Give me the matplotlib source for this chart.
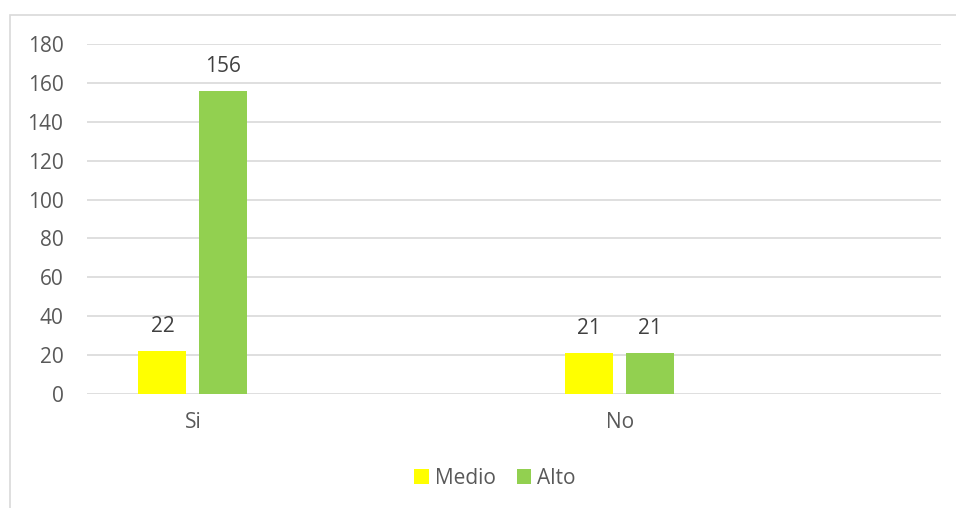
import matplotlib
matplotlib.use("Agg")
import matplotlib.pyplot as plt
from matplotlib.patches import Rectangle

categories = ["Si", "No"]
series_names = ["Medio", "Alto"]
medio = [22, 21]
alto = [156, 21]
yticks = [0, 20, 40, 60, 80, 100, 120, 140, 160, 180]

colors = ["#FFFF00", "#92D050"]
text_color = "#595959"
plt.rcParams['font.family'] = ['Open Sans', 'DejaVu Sans']
fs = 15

fig = plt.figure(figsize=(9.56, 5.08), dpi=100)
W, H = 956, 508
ax = fig.add_axes([87 / W, 1 - 394 / H, (941 - 87) / W, (394 - 44) / H])

# figure frame (top and left visible)
fig.add_artist(Rectangle((10 / W, -0.05), 1.2, 1 - 15 / H + 0.05, transform=fig.transFigure,
                         fill=False, edgecolor="#D9D9D9", linewidth=1.2))

x = range(len(categories))
bw = 0.112
off = 0.0714
b1 = ax.bar([i - off for i in x], medio, width=bw, color=colors[0], label=series_names[0], zorder=3)
b2 = ax.bar([i + off for i in x], alto, width=bw, color=colors[1], label=series_names[1], zorder=3)
for bars in (b1, b2):
    ax.bar_label(bars, padding=10, fontsize=fs, color="#404040")

ax.set_xlim(-0.248, 1.752)
ax.set_ylim(0, 180)
ax.set_yticks(yticks)
ax.set_xticks(list(x))
ax.set_xticklabels(categories)
ax.tick_params(axis='both', length=0, labelsize=fs, labelcolor=text_color)
ax.tick_params(axis='y', pad=17)
ax.tick_params(axis='x', pad=13)
ax.grid(axis='y', color="#D9D9D9", linewidth=1.2, zorder=0)
for s in ax.spines.values():
    s.set_visible(False)

leg = fig.legend(handles=[b1, b2], labels=series_names, loc='center', bbox_to_anchor=(495 / W, 1 - 478 / H),
                 ncol=2, frameon=False, fontsize=fs, handlelength=0.7, handleheight=0.7,
                 handletextpad=0.3, columnspacing=1.0, labelcolor=text_color)

fig.savefig("out.png", dpi=100)
